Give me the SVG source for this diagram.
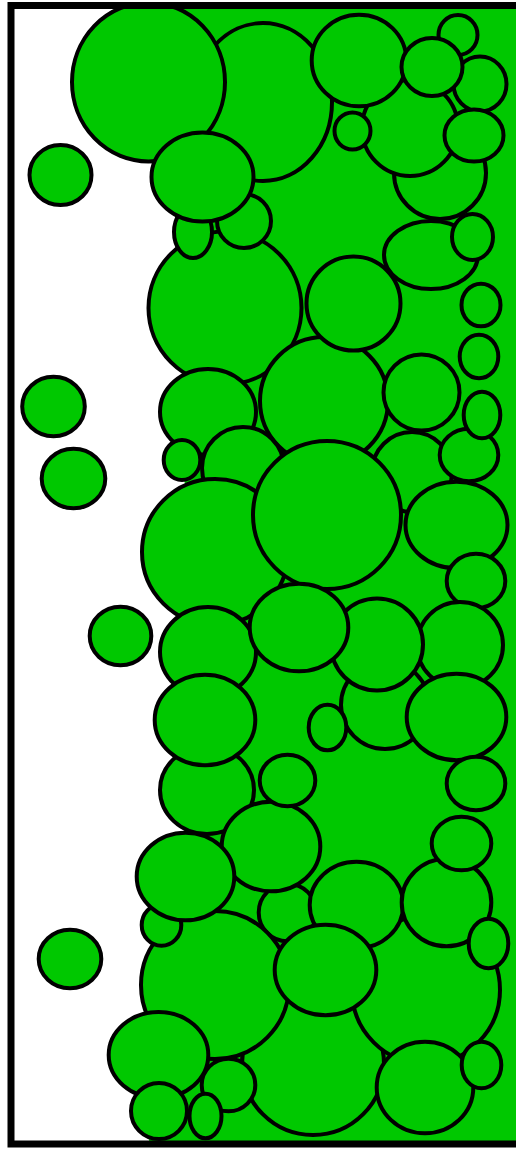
<svg xmlns="http://www.w3.org/2000/svg" width="516" height="1151" viewBox="0 0 516 1151">
<defs>
<clipPath id="inner"><rect x="11" y="5.5" width="510" height="1138.5"/></clipPath>
</defs>
<style>
.c{fill:#00c800;stroke:#000;stroke-width:4}
.bg{fill:#00c800;stroke:none}
.frame{fill:none;stroke:#000;stroke-width:7}
</style>
<rect x="0" y="0" width="516" height="1151" fill="#fff"/>
<g clip-path="url(#inner)">
<polygon class="bg" points="165,0 516,0 516,1144 150,1144 138,1097 152,1014 160,946 160,905 195,833 178,757 180,684 178,612 185,484 176,445 190,370 184,252 180,224 160,160"/>
<g id="bubbles">
<ellipse id="c16" class="c" cx="431" cy="255" rx="47" ry="34"/>
<ellipse id="c14" class="c" cx="440" cy="173" rx="46" ry="46"/>
<ellipse id="c4" class="c" cx="263" cy="102" rx="69" ry="79"/>
<ellipse id="c1" class="c" cx="148.5" cy="82" rx="76.5" ry="79.5"/>
<ellipse id="c13" class="c" cx="410" cy="128" rx="48" ry="48"/>
<ellipse id="c6" class="c" cx="352.5" cy="131" rx="18" ry="18.5"/>
<ellipse id="c5" class="c" cx="359" cy="60.5" rx="47.3" ry="45.8"/>
<ellipse id="c9" class="c" cx="458" cy="35" rx="19.5" ry="20"/>
<ellipse id="c11" class="c" cx="480" cy="84" rx="26.5" ry="27.5"/>
<ellipse id="c12" class="c" cx="474" cy="135.5" rx="29.5" ry="26"/>
<ellipse id="c10" class="c" cx="432" cy="67" rx="30.5" ry="29"/>
<ellipse id="c15" class="c" cx="472.5" cy="237" rx="20.5" ry="23"/>
<ellipse id="c21" class="c" cx="481" cy="305" rx="19.5" ry="21.3"/>
<ellipse id="c19" class="c" cx="225" cy="308" rx="76.5" ry="76.5"/>
<ellipse id="c7" class="c" cx="244" cy="221" rx="27" ry="27"/>
<ellipse id="c8" class="c" cx="193" cy="232" rx="19" ry="26"/>
<ellipse id="c3" class="c" cx="202.5" cy="177" rx="51" ry="44.5"/>
<ellipse id="c25" class="c" cx="324" cy="401" rx="64" ry="64"/>
<ellipse id="c18" class="c" cx="353.5" cy="303.5" rx="47" ry="47"/>
<ellipse id="c24" class="c" cx="421.5" cy="392.5" rx="38" ry="38"/>
<ellipse id="c22" class="c" cx="479" cy="356.5" rx="19.3" ry="21.8"/>
<ellipse id="c33" class="c" cx="412" cy="472" rx="40" ry="40"/>
<ellipse id="c31" class="c" cx="469" cy="455" rx="29.3" ry="26.3"/>
<ellipse id="c23" class="c" cx="482" cy="415" rx="18.3" ry="23.3"/>
<ellipse id="c32" class="c" cx="456.5" cy="525" rx="51" ry="43.3"/>
<ellipse id="c34" class="c" cx="476" cy="581" rx="29.3" ry="27.3"/>
<ellipse id="c26" class="c" cx="208" cy="412" rx="48" ry="43"/>
<ellipse id="c27" class="c" cx="182" cy="460" rx="18.3" ry="20"/>
<ellipse id="c28" class="c" cx="243" cy="468" rx="41" ry="41"/>
<ellipse id="c30" class="c" cx="215" cy="552" rx="73" ry="73"/>
<ellipse id="c29" class="c" cx="327" cy="515" rx="74" ry="74"/>
<ellipse id="c38" class="c" cx="208" cy="652" rx="48" ry="45"/>
<ellipse id="c41" class="c" cx="460" cy="645" rx="43" ry="43"/>
<ellipse id="c44" class="c" cx="385" cy="705" rx="44" ry="44"/>
<ellipse id="c40" class="c" cx="377" cy="644.5" rx="46" ry="46"/>
<ellipse id="c37" class="c" cx="299" cy="627.5" rx="49.3" ry="43.8"/>
<ellipse id="c43" class="c" cx="327.5" cy="727.5" rx="18.8" ry="22.8"/>
<ellipse id="c42" class="c" cx="456.5" cy="717" rx="49.8" ry="43.3"/>
<ellipse id="c68" class="c" cx="476" cy="783.5" rx="29.3" ry="26.8"/>
<ellipse id="c46" class="c" cx="207" cy="790" rx="47" ry="44"/>
<ellipse id="c39" class="c" cx="205" cy="720" rx="50.3" ry="45.3"/>
<ellipse id="c52" class="c" cx="287.5" cy="912.5" rx="28.8" ry="28.8"/>
<ellipse id="c47" class="c" cx="271" cy="846.5" rx="49.3" ry="44.8"/>
<ellipse id="c45" class="c" cx="287.5" cy="780.5" rx="27.8" ry="25.8"/>
<ellipse id="c63" class="c" cx="313" cy="1064" rx="71" ry="71"/>
<ellipse id="c57" class="c" cx="215" cy="985" rx="74" ry="74"/>
<ellipse id="c51" class="c" cx="161.5" cy="925" rx="19.8" ry="20.8"/>
<ellipse id="c48" class="c" cx="185.5" cy="876.5" rx="48.8" ry="43.8"/>
<ellipse id="c59" class="c" cx="426" cy="990" rx="74" ry="74"/>
<ellipse id="c53" class="c" cx="356.5" cy="905" rx="46.8" ry="43.3"/>
<ellipse id="c54" class="c" cx="446.5" cy="902.5" rx="44.8" ry="43.8"/>
<ellipse id="c49" class="c" cx="461.5" cy="843.5" rx="29.8" ry="26.8"/>
<ellipse id="c58" class="c" cx="325.5" cy="970" rx="50.8" ry="45.3"/>
<ellipse id="c55" class="c" cx="488.5" cy="943.5" rx="19.8" ry="24.8"/>
<ellipse id="c60" class="c" cx="158.5" cy="1055" rx="49.8" ry="43"/>
<ellipse id="c64" class="c" cx="228.5" cy="1085" rx="26.8" ry="26.3"/>
<ellipse id="c65" class="c" cx="159" cy="1111" rx="28" ry="28"/>
<ellipse id="c66" class="c" cx="205.5" cy="1116" rx="16" ry="22.3"/>
<ellipse id="c61" class="c" cx="425" cy="1087.5" rx="48.3" ry="45.8"/>
<ellipse id="c62" class="c" cx="481.5" cy="1065" rx="19.8" ry="23.3"/>
<ellipse id="c2" class="c" cx="60.5" cy="175" rx="31" ry="30"/>
<ellipse id="c69" class="c" cx="53.5" cy="406.5" rx="31.3" ry="29.8"/>
<ellipse id="c70" class="c" cx="73.5" cy="478.5" rx="31.8" ry="29.8"/>
<ellipse id="c36" class="c" cx="120.5" cy="636" rx="30.8" ry="29.3"/>
<ellipse id="c56" class="c" cx="70" cy="959" rx="31.3" ry="29.3"/>
</g>
</g>
<rect class="frame" x="11" y="5.5" width="600" height="1138.5"/>
</svg>
